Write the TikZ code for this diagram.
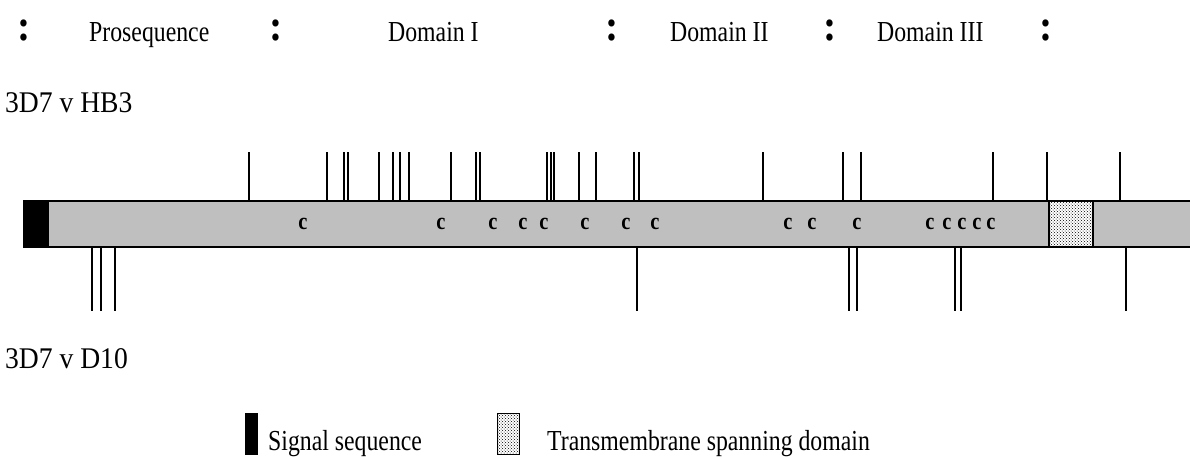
\documentclass[tikz,border=0pt]{standalone}
\usepackage{fontspec}
\setmainfont{Liberation Serif}
\usetikzlibrary{patterns}
\begin{document}
\begin{tikzpicture}[x=1pt,y=-1pt,
  lbl/.style={anchor=base west, inner sep=0pt, xscale=0.82, font=\fontsize{29}{32}\selectfont},
  rowlbl/.style={anchor=base west, inner sep=0pt, xscale=0.92, font=\fontsize{30}{32}\selectfont},
  colon/.style={anchor=base, inner sep=0pt, xscale=0.9, font=\fontsize{44}{46}\selectfont\bfseries},
  cys/.style={anchor=base, inner sep=0pt, xscale=0.85, font=\fontsize{24}{26}\selectfont\bfseries},
  tick/.style={line width=1.8pt},
  barline/.style={line width=2pt},
  tmfill/.style={pattern=crosshatch dots, pattern color=black}]
\useasboundingbox (0,0) rectangle (1190,456);
% header
\node[colon] (c1) at (24,40) {:};
\node[lbl] (pro) at (89,41) {Prosequence};
\node[colon] (c2) at (276,40) {:};
\node[lbl] (d1) at (388,41) {Domain I};
\node[colon] (c3) at (612,40) {:};
\node[lbl] (d2) at (670,41) {Domain II};
\node[colon] (c4) at (830,40) {:};
\node[lbl] (d3) at (877,41) {Domain III};
\node[colon] (c5) at (1046,40) {:};
% row labels
\node[rowlbl] (hb3) at (5,112) {3D7 v HB3};
\node[rowlbl] (d10) at (5,368) {3D7 v D10};
% top ticks
\foreach \x in {249,327,343.7,348.3,378.7,393.3,400.3,408.7,450.7,476,480,546.7,550.7,554,578.7,596,634,639,763.3,843.3,861,992.7,1046.7,1120}
  \draw[tick] (\x,152) -- (\x,201);
% bottom ticks
\foreach \x in {92,100.7,114.7,637.3,849,857,954.7,961,1126}
  \draw[tick] (\x,247) -- (\x,311);
% bar
\fill[gray!50] (24,201) rectangle (1195,247);
\fill[black] (24,201) rectangle (49,247);
\fill[white] (1049,201) rectangle (1093,247);
\fill[tmfill] (1049,201) rectangle (1093,247);
\draw[barline] (1049,201) rectangle (1093,247);
\draw[barline] (1195,201) -- (24,201) -- (24,247) -- (1195,247);
% cysteines
\foreach \x in {303,441,493,523,544,585,626,655,788,812,857,930,947,962,977,991}
  \node[cys] at (\x,229) {c};
% legend
\fill[black] (245,413) rectangle (258,455);
\node[lbl] (sig) at (268,450) {Signal sequence};
\fill[tmfill] (497,413) rectangle (519,454);
\draw[line width=1pt] (497,413) rectangle (519,454);
\node[lbl] (tm) at (547,450) {Transmembrane spanning domain};
\end{tikzpicture}
\end{document}
